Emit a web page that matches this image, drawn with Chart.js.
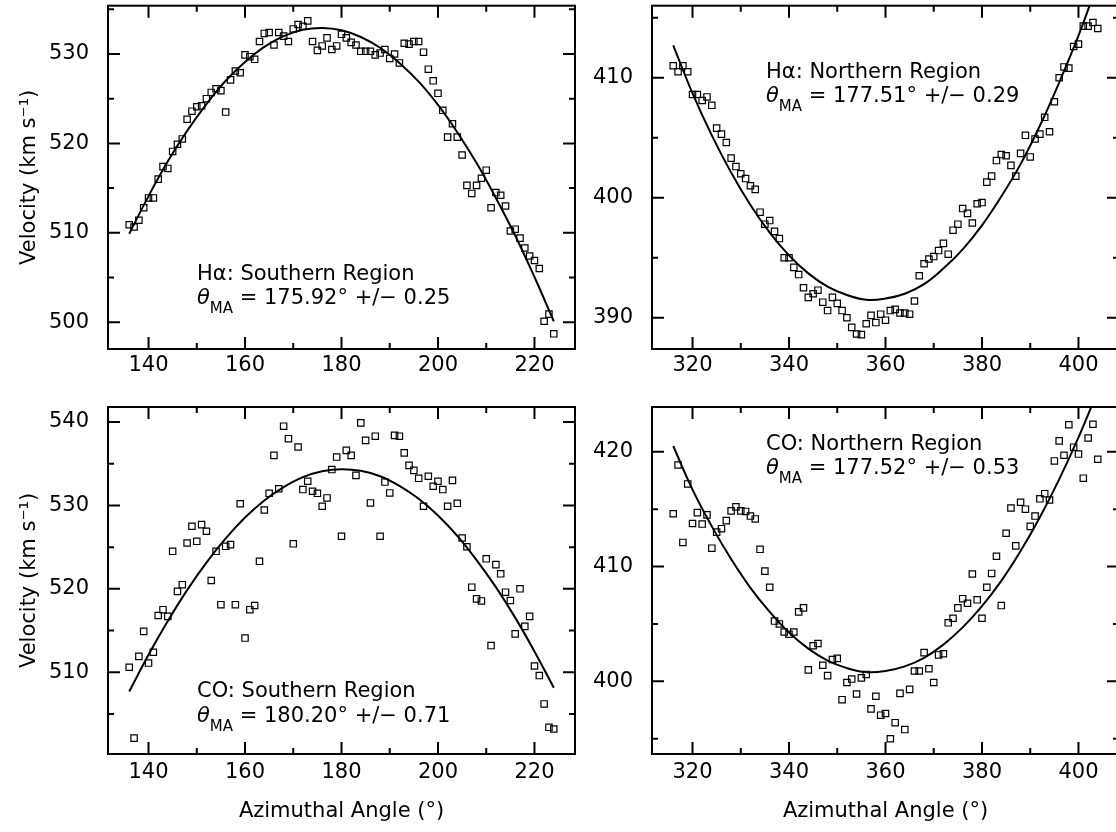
<!DOCTYPE html>
<html>
<head>
<meta charset="utf-8">
<script src="https://cdn.jsdelivr.net/npm/chart.js@4.4.1/dist/chart.umd.min.js"></script>
<style>
  html, body { margin: 0; padding: 0; background: #fff; overflow: hidden; width: 1116px; height: 832px; }
  canvas { position: absolute; }
</style>
</head>
<body>
<canvas id="haSouth" width="620" height="400" style="left:0px;top:0px"></canvas>
<canvas id="haNorth" width="600" height="400" style="left:560px;top:0px"></canvas>
<canvas id="coSouth" width="620" height="452" style="left:0px;top:380px"></canvas>
<canvas id="coNorth" width="600" height="452" style="left:560px;top:380px"></canvas>
<script>
// azimuthal angles (deg) of the measured points
var angleSouth = [136,137,138,139,140,141,142,143,144,145,146,147,148,149,150,151,152,153,154,155,
  156,157,158,159,160,161,162,163,164,165,166,167,168,169,170,171,172,173,174,175,176,177,178,179,180,
  181,182,183,184,185,186,187,188,189,190,191,192,193,194,195,196,197,198,199,200,201,202,203,204,205,
  206,207,208,209,210,211,212,213,214,215,216,217,218,219,220,221,222,223,224];
var angleNorth = [316,317,318,319,320,321,322,323,324,325,326,327,328,329,330,331,332,333,334,335,
  336,337,338,339,340,341,342,343,344,345,346,347,348,349,350,351,352,353,354,355,356,357,358,359,360,
  361,362,363,364,365,366,367,368,369,370,371,372,373,374,375,376,377,378,379,380,381,382,383,384,385,
  386,387,388,389,390,391,392,393,394,395,396,397,398,399,400,401,402,403,404];

// velocities (km/s)
var haSouthVel = [510.9,510.65,511.4,512.8,513.9,513.9,516.0,517.4,517.2,519.1,
  519.9,520.5,522.7,523.6,524.1,524.2,525.0,525.7,526.1,525.9,
  523.5,527.1,528.1,527.9,529.9,529.7,529.4,531.4,532.3,532.4,
  531.0,532.4,532.0,531.4,532.8,533.3,533.1,533.7,531.4,530.4,
  530.9,531.8,530.5,530.9,532.2,531.8,531.3,531.0,530.3,530.3,
  530.3,529.9,530.1,530.5,529.5,530.0,529.0,531.2,531.1,531.4,
  531.4,530.2,528.3,527.0,525.6,523.7,520.7,522.2,520.7,518.7,
  515.3,514.4,515.3,516.1,517.0,512.8,514.5,514.2,513.0,510.2,
  510.4,509.4,508.3,507.4,506.9,506.0,500.1,500.9,498.7];
var haNorthVel = [411.0,410.5,411.0,410.5,408.6,408.6,408.1,408.4,407.7,405.8,
  405.3,404.6,403.3,402.6,402.0,401.6,401.0,400.7,398.8,397.8,
  398.1,397.2,396.6,395.0,395.0,394.2,393.6,392.5,391.7,392.0,
  392.3,391.3,390.6,391.7,391.2,390.6,390.0,389.2,388.65,388.6,
  389.5,390.2,389.6,390.3,389.8,390.6,390.7,390.4,390.4,390.3,
  391.4,393.5,394.5,394.9,395.1,395.6,396.2,395.3,397.3,397.8,
  399.1,398.7,397.9,399.5,399.6,401.3,401.8,403.1,403.6,403.5,
  402.7,401.8,403.7,405.2,403.4,404.9,405.3,406.7,405.5,408.0,
  410.0,410.9,410.8,412.6,412.8,414.3,414.3,414.6,414.1];
var coSouthVel = [510.6,502.1,511.9,514.9,511.1,512.4,516.8,517.5,516.7,524.5,
  519.7,520.5,525.5,527.5,525.7,527.7,526.9,521.0,524.5,518.1,
  525.1,525.3,518.1,530.2,514.1,517.5,518.0,523.3,529.45,531.45,
  536.0,532.0,539.5,538.0,525.4,537.0,531.9,532.9,531.7,531.45,
  529.9,530.9,534.3,535.8,526.3,536.6,536.0,533.6,539.9,537.8,
  530.3,538.3,526.3,532.8,531.5,538.4,538.3,536.3,534.8,534.2,
  533.25,529.9,533.5,532.3,532.9,531.9,529.9,533.0,530.25,526.1,
  525.05,520.2,518.8,518.55,523.6,513.2,522.9,521.8,519.6,518.6,
  514.6,520.0,515.5,516.7,510.75,509.6,506.2,503.4,503.2];
var coNorthVel = [414.6,418.85,412.1,417.2,413.75,414.7,413.7,414.5,411.6,413.0,
  413.3,414.0,414.85,415.2,414.85,414.8,414.4,414.15,411.5,409.6,
  408.2,405.25,405.0,404.3,404.1,404.3,406.05,406.4,401.0,403.1,
  403.3,401.4,400.5,401.9,402.0,398.4,399.9,400.2,398.9,400.3,
  400.6,397.6,398.7,397.05,397.2,395.0,396.4,398.95,395.8,399.3,
  400.9,400.9,402.5,401.1,399.9,402.3,402.4,405.1,405.5,406.4,
  407.2,406.8,409.35,407.1,405.5,408.2,409.4,410.9,406.6,412.9,
  415.1,411.8,415.6,415.0,413.5,414.4,415.9,416.35,415.8,419.2,
  420.95,419.7,422.35,420.4,419.8,417.7,421.2,422.4,419.35];

// fitted curves
var fitAngleSouth = [136,140,144,148,152,156,160,164,168,172,176,180,184,188,192,196,200,204,208,212,216,220,224];
var fitAngleNorth = [316,320,324,328,332,336,340,344,348,352,356,360,364,368,372,376,380,384,388,392,396,400,404];
var fitHaSouth = [509.9,514.1,518.0,521.4,524.4,527.0,529.1,530.8,532.0,532.7,532.9,532.65,531.9,530.7,529.0,526.9,524.3,521.25,517.8,513.9,509.7,505.05,500.1];
var fitHaNorth = [412.7,408.7,405.2,402.1,399.4,397.1,395.2,393.7,392.6,391.9,391.5,391.6,392.0,392.8,394.1,395.7,397.7,400.1,402.8,406.0,409.6,413.5,417.9];
var fitCoSouth = [507.7,512.1,516.15,519.85,523.15,526.05,528.55,530.6,532.2,533.4,534.1,534.35,534.15,533.5,532.35,530.8,528.8,526.35,523.45,520.2,516.55,512.5,508.15];
var fitCoNorth = [420.5,416.7,413.5,410.65,408.15,406.05,404.25,402.85,401.8,401.15,400.8,400.9,401.3,402.05,403.2,404.7,406.55,408.75,411.35,414.3,417.6,421.25,425.3];

// tick labels
var xTicksSouth = [140, 160, 180, 200, 220];
var xTicksNorth = [320, 340, 360, 380, 400];
var yTicksHaSouth = [500, 510, 520, 530];
var yTicksHaNorth = [390, 400, 410];
var yTicksCoSouth = [510, 520, 530, 540];
var yTicksCoNorth = [400, 410, 420];

Chart.defaults.font.family = "'DejaVu Sans', sans-serif";
Chart.defaults.font.size = 21;
Chart.defaults.color = '#000';

function pairs(xs, ys) {
  return xs.map(function (x, i) { return {x: x, y: ys[i]}; });
}

function minorsOf(major, min, max) {
  var step = major[1] - major[0];
  var out = [];
  major.forEach(function (v) { out.push(v - step / 2); });
  out.push(major[major.length - 1] + step / 2);
  return out.filter(function (v) { return v > min && v < max; });
}

// box, inward ticks on all four sides, and the text note
var framePlugin = {
  id: 'frame',
  afterDraw: function (chart, args, opts) {
    var ctx = chart.ctx, a = chart.chartArea;
    var xs = chart.scales.x, ys = chart.scales.y;
    ctx.save();
    ctx.strokeStyle = '#000';
    ctx.lineWidth = 2;
    ctx.strokeRect(a.left, a.top, a.right - a.left, a.bottom - a.top);

    ctx.beginPath();
    function xTick(v, len) {
      var p = xs.getPixelForValue(v);
      ctx.moveTo(p, a.bottom); ctx.lineTo(p, a.bottom - len);
      ctx.moveTo(p, a.top); ctx.lineTo(p, a.top + len);
    }
    function yTick(v, len) {
      var p = ys.getPixelForValue(v);
      ctx.moveTo(a.left, p); ctx.lineTo(a.left + len, p);
      ctx.moveTo(a.right, p); ctx.lineTo(a.right - len, p);
    }
    var xm = xs.ticks.map(function (t) { return t.value; });
    var ym = ys.ticks.map(function (t) { return t.value; });
    xm.forEach(function (v) { xTick(v, 12); });
    minorsOf(xm, xs.min, xs.max).forEach(function (v) { xTick(v, 6); });
    ym.forEach(function (v) { yTick(v, 12); });
    minorsOf(ym, ys.min, ys.max).forEach(function (v) { yTick(v, 6); });
    ctx.stroke();

    var n = opts.note;
    var x = a.left + n.dx, y = a.top + n.dy;
    ctx.fillStyle = '#000';
    ctx.textBaseline = 'middle';
    ctx.textAlign = 'left';
    ctx.font = "21px 'DejaVu Sans'";
    ctx.fillText(n.title, x, y);
    var ty = y + n.gap;
    ctx.font = "italic 21px 'DejaVu Sans'";
    ctx.fillText('\u03b8', x, ty);
    x += ctx.measureText('\u03b8').width;
    ctx.font = "15px 'DejaVu Sans'";
    ctx.fillText('MA', x, ty + 10);
    x += ctx.measureText('MA').width;
    ctx.font = "21px 'DejaVu Sans'";
    ctx.fillText(' = ' + n.theta + '\u00b0 +/\u2212 ' + n.err, x, ty);
    ctx.restore();
  }
};

function panel(id, cfg) {
  new Chart(document.getElementById(id), {
    type: 'line',
    data: {
      datasets: [
        {
          data: pairs(cfg.fitX, cfg.fitY),
          borderColor: '#000',
          borderWidth: 2,
          pointRadius: 0,
          tension: 0.4,
          fill: false
        },
        {
          data: pairs(cfg.x, cfg.y),
          showLine: false,
          pointStyle: 'rect',
          pointRadius: 4.5,
          pointBorderWidth: 1.2,
          pointBorderColor: '#000',
          pointBackgroundColor: 'rgba(0,0,0,0)'
        }
      ]
    },
    options: {
      responsive: false,
      animation: false,
      devicePixelRatio: 1,
      events: [],
      layout: { padding: cfg.padding },
      plugins: {
        legend: { display: false },
        tooltip: { enabled: false },
        frame: { note: cfg.note }
      },
      scales: {
        x: {
          type: 'linear',
          min: cfg.xMin, max: cfg.xMax,
          grid: { display: false, drawTicks: false },
          border: { display: false },
          afterBuildTicks: function (s) { s.ticks = cfg.xTicks.map(function (v) { return {value: v}; }); },
          afterFit: function (s) { s.height = cfg.xHeight; s.paddingLeft = 0; s.paddingRight = 0; },
          ticks: { autoSkip: false, maxRotation: 0, padding: cfg.xPad },
          title: {
            display: !!cfg.xTitle,
            text: cfg.xTitle || '',
            font: { size: 21 },
            padding: { top: 0, bottom: 8 }
          }
        },
        y: {
          min: cfg.yMin, max: cfg.yMax,
          grid: { display: false, drawTicks: false },
          border: { display: false },
          afterBuildTicks: function (s) { s.ticks = cfg.yTicks.map(function (v) { return {value: v}; }); },
          afterFit: function (s) { s.width = cfg.yWidth; s.paddingTop = 0; s.paddingBottom = 0; },
          ticks: { padding: 19 },
          title: {
            display: !!cfg.yTitle,
            text: cfg.yTitle || '',
            font: { size: 21 },
            padding: { top: 17, bottom: 0 }
          }
        }
      }
    },
    plugins: [framePlugin]
  });
}

var velTitle = 'Velocity (km s\u207b\u00b9)';
var angTitle = 'Azimuthal Angle (\u00b0)';

panel('haSouth', {
  x: angleSouth, y: haSouthVel, fitX: fitAngleSouth, fitY: fitHaSouth,
  xMin: 131.6, xMax: 228.4, yMin: 497.0, yMax: 535.4,
  xTicks: xTicksSouth, yTicks: yTicksHaSouth,
  padding: { top: 3, right: 45, bottom: 0, left: 0 }, yWidth: 108, xHeight: 51, xPad: 4,
  yTitle: velTitle,
  note: { dx: 89, dy: 269, gap: 24, title: 'H\u03b1: Southern Region', theta: '175.92', err: '0.25' }
});

panel('haNorth', {
  x: angleNorth, y: haNorthVel, fitX: fitAngleNorth, fitY: fitHaNorth,
  xMin: 311.6, xMax: 408.4, yMin: 387.4, yMax: 416.0,
  xTicks: xTicksNorth, yTicks: yTicksHaNorth,
  padding: { top: 3, right: 41, bottom: 0, left: 0 }, yWidth: 92, xHeight: 51, xPad: 4,
  note: { dx: 114, dy: 67, gap: 24, title: 'H\u03b1: Northern Region', theta: '177.51', err: '0.29' }
});

panel('coSouth', {
  x: angleSouth, y: coSouthVel, fitX: fitAngleSouth, fitY: fitCoSouth,
  xMin: 131.6, xMax: 228.4, yMin: 500.2, yMax: 541.8,
  xTicks: xTicksSouth, yTicks: yTicksCoSouth,
  padding: { top: 27, right: 45, bottom: 0, left: 0 }, yWidth: 108, xHeight: 78, xPad: 6,
  yTitle: velTitle, xTitle: angTitle,
  note: { dx: 89, dy: 285, gap: 25, title: 'CO: Southern Region', theta: '180.20', err: '0.71' }
});

panel('coNorth', {
  x: angleNorth, y: coNorthVel, fitX: fitAngleNorth, fitY: fitCoNorth,
  xMin: 311.6, xMax: 408.4, yMin: 393.67, yMax: 423.9,
  xTicks: xTicksNorth, yTicks: yTicksCoNorth,
  padding: { top: 27, right: 41, bottom: 0, left: 0 }, yWidth: 92, xHeight: 78, xPad: 6,
  xTitle: angTitle,
  note: { dx: 114, dy: 38, gap: 24, title: 'CO: Northern Region', theta: '177.52', err: '0.53' }
});
</script>
</body>
</html>
